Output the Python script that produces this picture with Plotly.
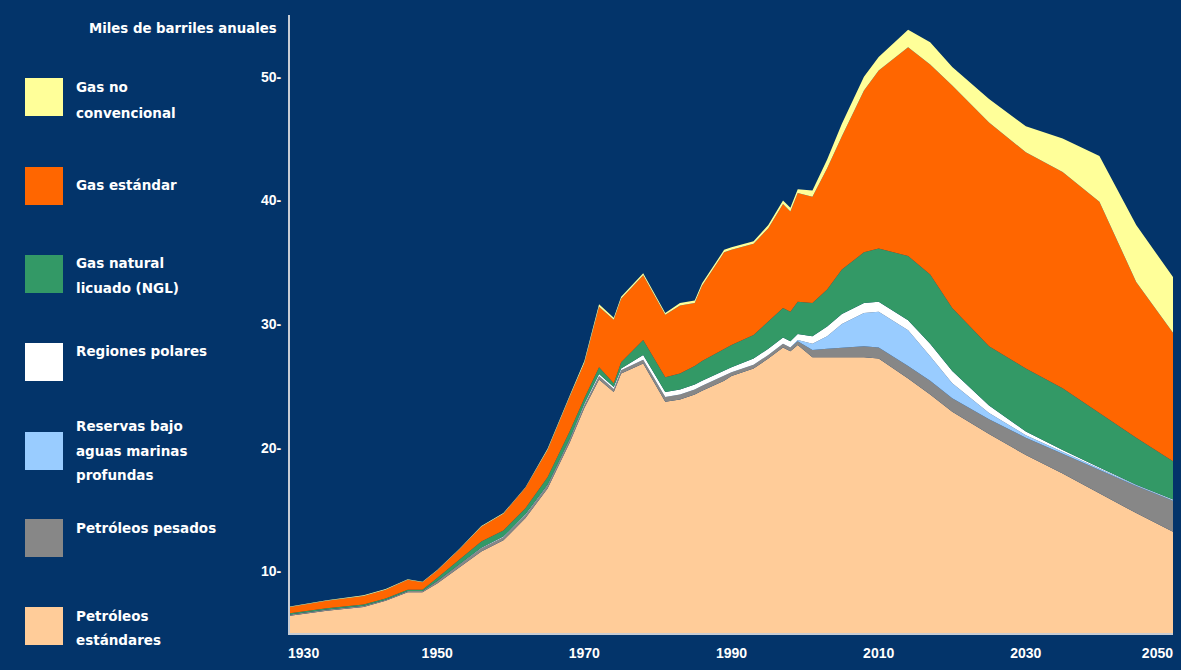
import plotly.graph_objects as go

# ---------------- data (Miles de barriles anuales) ----------------
years = [1930, 1935, 1940, 1943, 1946, 1948, 1950, 1953, 1956, 1959,
         1962, 1965, 1968, 1970, 1972, 1974, 1975, 1978, 1981, 1983,
         1985, 1986, 1989, 1990, 1993, 1995, 1997, 1998, 1999, 2001,
         2003, 2005, 2008, 2010, 2014, 2017, 2020, 2025, 2030, 2035,
         2040, 2045, 2050]

petroleos_estandares = [6.4, 6.8, 7.1, 7.6, 8.3, 8.3, 9.0, 10.3, 11.6, 12.5,
                        14.3, 16.7, 20.4, 23.2, 25.5, 24.5, 26.0, 26.8, 23.7, 23.9,
                        24.3, 24.6, 25.4, 25.8, 26.4, 27.2, 28.1, 27.8, 28.3, 27.3,
                        27.3, 27.3, 27.3, 27.2, 25.6, 24.3, 22.9, 21.1, 19.4, 17.9,
                        16.3, 14.7, 13.2]
petroleos_pesados = [0.1, 0.1, 0.1, 0.1, 0.1, 0.1, 0.2, 0.25, 0.25, 0.25,
                     0.25, 0.25, 0.25, 0.25, 0.3, 0.25, 0.25, 0.3, 0.4, 0.4,
                     0.4, 0.4, 0.4, 0.3, 0.3, 0.3, 0.3, 0.3, 0.3, 0.6,
                     0.7, 0.8, 0.9, 0.9, 1.0, 1.1, 1.1, 1.2, 1.4, 1.6,
                     1.9, 2.2, 2.5]
aguas_profundas = [0, 0, 0, 0, 0, 0, 0, 0, 0, 0,
                   0, 0, 0, 0, 0, 0, 0, 0, 0, 0,
                   0, 0, 0, 0, 0, 0, 0, 0, 0.1, 0.5,
                   1.0, 1.9, 2.7, 2.9, 2.9, 2.0, 1.2, 0.5, 0.2, 0.15,
                   0.1, 0.05, 0.05]
regiones_polares = [0, 0, 0, 0, 0, 0, 0, 0, 0.05, 0.05,
                    0.05, 0.05, 0.05, 0.1, 0.15, 0.15, 0.15, 0.4, 0.4, 0.4,
                    0.4, 0.4, 0.4, 0.4, 0.5, 0.5, 0.5, 0.5, 0.5, 0.6,
                    0.8, 0.8, 0.8, 0.8, 0.8, 1.0, 1.0, 0.6, 0.3, 0.15,
                    0.1, 0.05, 0.05]
gas_natural_licuado = [0.1, 0.1, 0.1, 0.1, 0.1, 0.1, 0.25, 0.4, 0.5, 0.5,
                       0.5, 0.6, 0.6, 0.45, 0.55, 0.3, 0.5, 1.2, 1.2, 1.3,
                       1.5, 1.6, 1.8, 1.8, 1.9, 2.2, 2.4, 2.4, 2.6, 2.7,
                       3.0, 3.6, 4.1, 4.3, 5.2, 5.6, 5.1, 4.8, 5.1, 5.0,
                       4.4, 3.8, 3.1]
gas_estandar = [0.5, 0.6, 0.7, 0.7, 0.8, 0.6, 0.6, 0.8, 1.2, 1.35,
                1.65, 2.2, 2.8, 2.85, 4.9, 5.15, 5.15, 5.25, 5.05, 5.5,
                5.1, 6.1, 7.8, 7.7, 7.4, 7.55, 8.4, 8.1, 8.8, 8.6,
                9.8, 10.8, 13.1, 14.4, 16.9, 17.0, 18.0, 18.1, 17.5, 17.5,
                17.1, 12.6, 10.4]
gas_no_convencional = [0.05, 0.05, 0.05, 0.05, 0.05, 0.05, 0.05, 0.05, 0.05, 0.05,
                       0.05, 0.1, 0.1, 0.15, 0.2, 0.15, 0.15, 0.15, 0.15, 0.2,
                       0.2, 0.2, 0.2, 0.2, 0.2, 0.25, 0.3, 0.3, 0.3, 0.5,
                       0.7, 1.0, 1.1, 1.1, 1.4, 1.8, 1.5, 1.9, 2.1, 2.7,
                       3.7, 4.6, 4.5]

series_names = ["Petróleos estándares", "Petróleos pesados",
                "Reservas bajo aguas marinas profundas", "Regiones polares",
                "Gas natural licuado (NGL)", "Gas estándar", "Gas no convencional"]
series_values = [petroleos_estandares, petroleos_pesados, aguas_profundas,
                 regiones_polares, gas_natural_licuado, gas_estandar,
                 gas_no_convencional]
series_colors = ["#FFCC99", "#878787", "#99CCFF", "#FFFFFF",
                 "#339966", "#FF6600", "#FFFF99"]

x_ticks = [1930, 1950, 1970, 1990, 2010, 2030]
x_tick_labels = ["1930", "1950", "1970", "1990", "2010", "2030"]
x_end_tick = [2050]
x_end_label = ["2050"]
y_ticks = [10, 20, 30, 40, 50]
y_tick_labels = ["10-", "20-", "30-", "40-", "50-"]

# legend (top to bottom) : text lines
legend_lines = [["Gas no", "convencional"], ["Gas estándar"],
                ["Gas natural", "licuado (NGL)"], ["Regiones polares"],
                ["Reservas bajo", "aguas marinas", "profundas"],
                ["Petróleos pesados"], ["Petróleos", "estándares"]]

# ---------------- layout geometry (pixels) ----------------
W, H = 1181, 670
L, R, T, B = 290, 1173, 15, 633
BG = "#03346A"
FONT = "Liberation Sans, Arial, sans-serif"
LFONT = "DejaVu Sans, Liberation Sans, sans-serif"
NB = "\u00a0"


def px(xp):
    return (xp - L) / (R - L)


def py(yp):
    return (B - yp) / (B - T)


# first label is nudged inward (as in the original artwork) with padding
tick_text = list(x_tick_labels)
tick_text[0] = NB * 7 + tick_text[0]

fig = go.Figure()
for name, vals, col in zip(series_names, series_values, series_colors):
    fig.add_trace(go.Scatter(
        x=years, y=vals, name=name, mode="lines",
        stackgroup="one", line=dict(width=0, color=col),
        fillcolor=col, showlegend=False, hoverinfo="skip"))
# empty helper trace so the overlaid axis carrying the last year label exists
fig.add_trace(go.Scatter(x=[], y=[], xaxis="x2", yaxis="y",
                         showlegend=False, hoverinfo="skip"))

shapes = []
annotations = []
swatch_tops = [78, 167, 255, 343, 432, 519, 607]
line_centers = [[87, 113], [185], [263, 288], [351],
                [426, 451, 475], [528], [616, 640]]
legend_colors = list(reversed(series_colors))
for top, col, lines, centers in zip(swatch_tops, legend_colors,
                                    legend_lines, line_centers):
    shapes.append(dict(type="rect", xref="paper", yref="paper",
                       x0=px(25), x1=px(63), y0=py(top + 38), y1=py(top),
                       fillcolor=col, line=dict(width=0)))
    for txt, yc in zip(lines, centers):
        annotations.append(dict(text=txt, xref="paper", yref="paper",
                                x=px(74), y=py(yc), xanchor="left",
                                yanchor="middle", showarrow=False,
                                font=dict(family=LFONT, size=13.5,
                                          color="white", weight="bold")))

annotations.append(dict(text="Miles de barriles anuales", xref="paper",
                        yref="paper", x=px(279), y=py(28), xanchor="right",
                        yanchor="middle", showarrow=False,
                        font=dict(family=LFONT, size=13.3, color="white",
                                  weight="bold")))

tickfont = dict(family=FONT, size=14, color="white", weight="bold")

fig.update_layout(
    width=W, height=H,
    margin=dict(l=L, r=W - R, t=T, b=H - B, pad=0, autoexpand=False),
    paper_bgcolor=BG, plot_bgcolor=BG,
    shapes=shapes, annotations=annotations,
    font=dict(family=FONT, color="white"),
    hovermode=False,
    xaxis=dict(range=[1930, 2050], tickvals=x_ticks, ticktext=tick_text,
               showgrid=False, zeroline=False, showline=True,
               linecolor="#C8CCD4", linewidth=2, ticks="",
               ticklabelstandoff=6, automargin=False, tickfont=tickfont),
    xaxis2=dict(range=[1930, 2050], matches="x", overlaying="x",
                anchor="y", side="bottom", tickvals=x_end_tick,
                ticktext=x_end_label, ticklabelposition="outside left",
                showgrid=False, zeroline=False, showline=False, ticks="",
                ticklabelstandoff=10, automargin=False, tickfont=tickfont),
    yaxis=dict(range=[5, 55], tickvals=y_ticks, ticktext=y_tick_labels,
               showgrid=False, zeroline=False, showline=True,
               linecolor="#C8CCD4", linewidth=2, ticks="",
               ticklabelstandoff=4, automargin=False, tickfont=tickfont),
)

fig.write_html("out.html", config={"displayModeBar": False},
               post_script="document.body.style.margin='0';")
